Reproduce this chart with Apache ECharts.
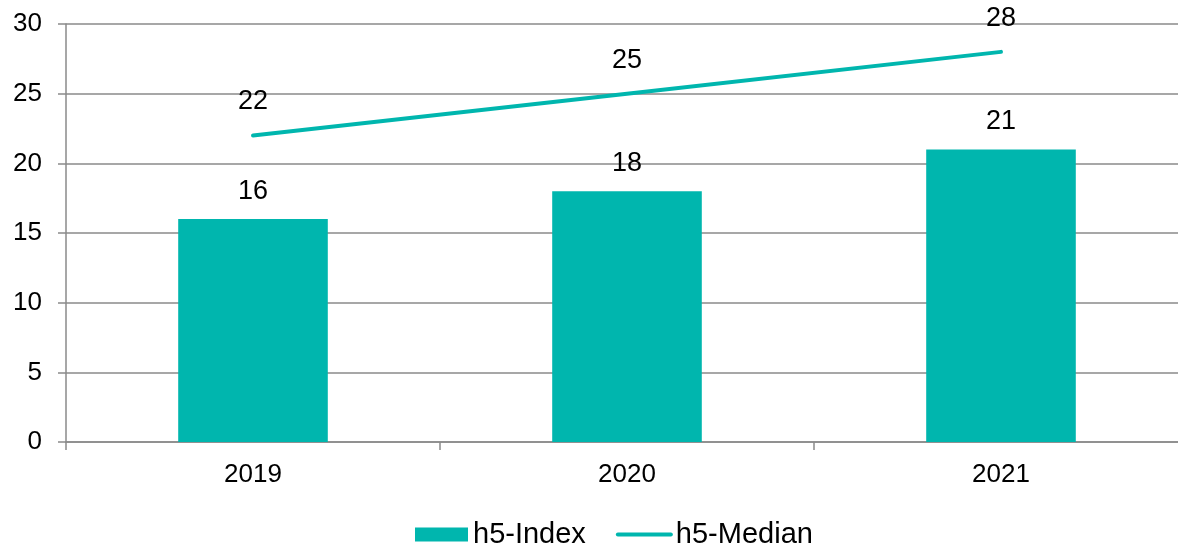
<!DOCTYPE html>
<html>
<head>
<meta charset="utf-8">
<script src="https://cdn.jsdelivr.net/npm/echarts@6/dist/echarts.min.js"></script>
<style>
html,body{margin:0;padding:0;background:#fff;overflow:hidden;}
#c{width:1188px;height:548px;}
</style>
</head>
<body>
<div id="c"></div>
<script>
const categories = ['2019', '2020', '2021'];
const h5Index = [16, 18, 21];
const h5Median = [22, 25, 28];
const yTicks = [0, 5, 10, 15, 20, 25, 30];

const teal = '#00B6AE';
const gridGray = '#8a8a8a';
const font = 'Liberation Sans, Arial, sans-serif';

const chart = echarts.init(document.getElementById('c'));
chart.setOption({
  animation: false,
  backgroundColor: '#fff',
  grid: { left: 66, top: 24, bottom: 106, right: 0, containLabel: false },
  legend: {
    left: 410,
    top: 515,
    itemWidth: 53,
    itemHeight: 14,
    itemGap: 30,
    textStyle: { fontFamily: font, fontSize: 29, color: '#000' },
    data: [
      { name: 'h5-Index', icon: 'rect' },
      { name: 'h5-Median', itemStyle: { opacity: 0 }, lineStyle: { width: 4, cap: 'round', color: teal } }
    ]
  },
  xAxis: {
    type: 'category',
    data: categories,
    boundaryGap: true,
    axisLine: { lineStyle: { color: gridGray, width: 1.5 } },
    axisTick: { show: true, length: 8, lineStyle: { color: gridGray, width: 1.5 } },
    axisLabel: { fontFamily: font, fontSize: 26, color: '#000', margin: 20 }
  },
  yAxis: {
    type: 'value',
    min: yTicks[0],
    max: yTicks[yTicks.length - 1],
    interval: 5,
    axisLine: { show: true, lineStyle: { color: gridGray, width: 1.5 } },
    axisTick: { show: true, length: 8, lineStyle: { color: gridGray, width: 1.5 } },
    axisLabel: { fontFamily: font, fontSize: 26, color: '#000', margin: 24 },
    splitLine: { lineStyle: { color: gridGray, width: 1.5 } }
  },
  series: [
    {
      name: 'h5-Index',
      type: 'bar',
      data: h5Index,
      barWidth: '40%',
      itemStyle: { color: teal },
      label: { show: true, position: 'top', distance: 14, fontFamily: font, fontSize: 27, color: '#000' }
    },
    {
      name: 'h5-Median',
      type: 'line',
      data: h5Median,
      symbol: 'circle',
      symbolSize: 0.1,
      showSymbol: true,
      itemStyle: { color: teal },
      lineStyle: { color: teal, width: 4, cap: 'round' },
      label: { show: true, position: 'top', distance: 20, fontFamily: font, fontSize: 27, color: '#000' }
    }
  ]
});
</script>
</body>
</html>
